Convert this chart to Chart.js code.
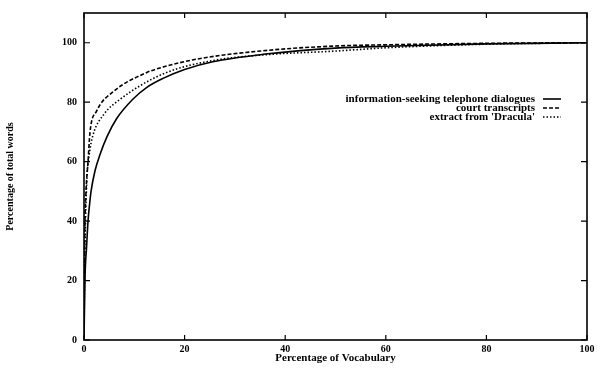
<!DOCTYPE html>
<html>
<head>
<meta charset="utf-8">
<script src="https://cdn.jsdelivr.net/npm/chart.js@4.4.1/dist/chart.umd.min.js"></script>
<style>
  html, body { margin: 0; padding: 0; background: #fff; }
  #wrap { width: 600px; height: 368px; }
</style>
</head>
<body>
<div id="wrap"><canvas id="vocabChart" width="600" height="368"></canvas></div>
<script>
// values (x = % of vocabulary, y = % of total words)
const seriesLabels = ['information-seeking telephone dialogues', 'court transcripts', "extract from 'Dracula'"];

const telephoneX = [0, 0.2, 0.5, 0.8, 1.1, 1.4, 2.2, 3.2, 4.6, 6.5, 9.7, 12.5, 15.7, 20, 25.6, 35.6, 50, 60, 80, 100];
const telephoneY = [0, 21, 31, 40, 45.5, 50, 57, 62.5, 68.5, 74.5, 81, 85, 88, 91, 93.6, 96.1, 98.2, 98.8, 99.6, 100];

const courtX = [0, 0.05, 0.15, 0.4, 0.8, 1.2, 2.5, 5.8, 12.5, 15.7, 22.5, 35.6, 50, 60, 80, 100];
const courtY = [0, 15, 35, 50, 60, 70, 77, 83.5, 90, 91.8, 94.5, 97.3, 98.9, 99.3, 99.8, 100];

const draculaX = [0, 0.1, 0.3, 0.6, 1.0, 1.8, 4, 7.2, 15.7, 25.6, 35.6, 50, 60, 70, 80, 100];
const draculaY = [0, 20, 40, 55, 62, 69, 76, 81, 89.5, 94, 95.9, 97.2, 98.3, 99, 99.5, 100];

const xTicks = [0, 20, 40, 60, 80, 100];
const yTicks = [0, 20, 40, 60, 80, 100];

const FONT = 'Liberation Serif';

function toPoints(xs, ys) {
    return xs.map((x, i) => ({ x: x, y: ys[i] }));
}

// box round the plot plus gnuplot-style inward ticks on all four sides
const framePlugin = {
    id: 'frame',
    afterDatasetsDraw(chart) {
        const { ctx, chartArea: a, scales } = chart;
        ctx.save();
        ctx.strokeStyle = '#000';
        ctx.lineWidth = 1.6;
        ctx.strokeRect(a.left, a.top, a.right - a.left, a.bottom - a.top);
        ctx.lineWidth = 1.2;
        ctx.beginPath();
        xTicks.forEach(v => {
            const px = scales.x.getPixelForValue(v);
            ctx.moveTo(px, a.bottom); ctx.lineTo(px, a.bottom - 5);
            ctx.moveTo(px, a.top); ctx.lineTo(px, a.top + 5);
        });
        yTicks.forEach(v => {
            const py = scales.y.getPixelForValue(v);
            ctx.moveTo(a.left, py); ctx.lineTo(a.left + 6, py);
            ctx.moveTo(a.right, py); ctx.lineTo(a.right - 6, py);
        });
        ctx.stroke();
        ctx.restore();
    }
};

// key inside the plot: right-aligned text followed by a line sample
const keyPlugin = {
    id: 'key',
    afterDatasetsDraw(chart) {
        const { ctx } = chart;
        ctx.save();
        ctx.font = 'bold 11px "' + FONT + '"';
        ctx.textAlign = 'right';
        ctx.textBaseline = 'middle';
        ctx.fillStyle = '#000';
        chart.data.datasets.forEach((ds, i) => {
            const y = 99 + i * 9;
            ctx.fillText(ds.label, 535, y);
            ctx.beginPath();
            ctx.setLineDash(ds.borderDash || []);
            ctx.lineWidth = ds.borderWidth;
            ctx.strokeStyle = ds.borderColor;
            ctx.moveTo(543, y);
            ctx.lineTo(561, y);
            ctx.stroke();
        });
        ctx.restore();
    }
};

const ctx = document.getElementById('vocabChart').getContext('2d');
const chart = new Chart(ctx, {
    type: 'line',
    data: {
        datasets: [
            {
                label: seriesLabels[0],
                data: toPoints(telephoneX, telephoneY),
                borderColor: '#000',
                borderWidth: 1.6,
                pointRadius: 0,
                cubicInterpolationMode: 'monotone',
            },
            {
                label: seriesLabels[1],
                data: toPoints(courtX, courtY),
                borderColor: '#000',
                borderWidth: 1.6,
                borderDash: [4, 2],
                pointRadius: 0,
                cubicInterpolationMode: 'monotone',
            },
            {
                label: seriesLabels[2],
                data: toPoints(draculaX, draculaY),
                borderColor: '#000',
                borderWidth: 1.6,
                borderDash: [1.5, 2],
                pointRadius: 0,
                cubicInterpolationMode: 'monotone',
            },
        ],
    },
    options: {
        responsive: false,
        animation: false,
        layout: { padding: { top: 8, right: 13, left: 0, bottom: 0 } },
        scales: {
            x: {
                type: 'linear',
                min: 0,
                max: 100,
                grid: { display: false, drawTicks: false },
                border: { display: false },
                afterBuildTicks: s => { s.ticks = xTicks.map(v => ({ value: v })); },
                afterFit: s => { s.height = 28; },
                ticks: {
                    padding: 3,
                    color: '#000',
                    font: { family: FONT, size: 10, weight: 'bold' },
                },
                title: {
                    display: true,
                    text: 'Percentage of Vocabulary',
                    color: '#000',
                    padding: { top: 0, bottom: 3 },
                    font: { family: FONT, size: 11, weight: 'bold' },
                },
            },
            y: {
                type: 'linear',
                min: 0,
                max: 110,
                grid: { display: false, drawTicks: false },
                border: { display: false },
                afterBuildTicks: s => { s.ticks = yTicks.map(v => ({ value: v })); },
                afterFit: s => { s.width = 84; },
                ticks: {
                    padding: 7,
                    color: '#000',
                    font: { family: FONT, size: 10, weight: 'bold' },
                },
                title: {
                    display: true,
                    text: 'Percentage of total words',
                    color: '#000',
                    padding: { top: 4, bottom: 0 },
                    font: { family: FONT, size: 10, weight: 'bold' },
                },
            },
        },
        plugins: {
            legend: { display: false },
            tooltip: { enabled: false },
        },
    },
    plugins: [framePlugin, keyPlugin],
});
</script>
</body>
</html>
